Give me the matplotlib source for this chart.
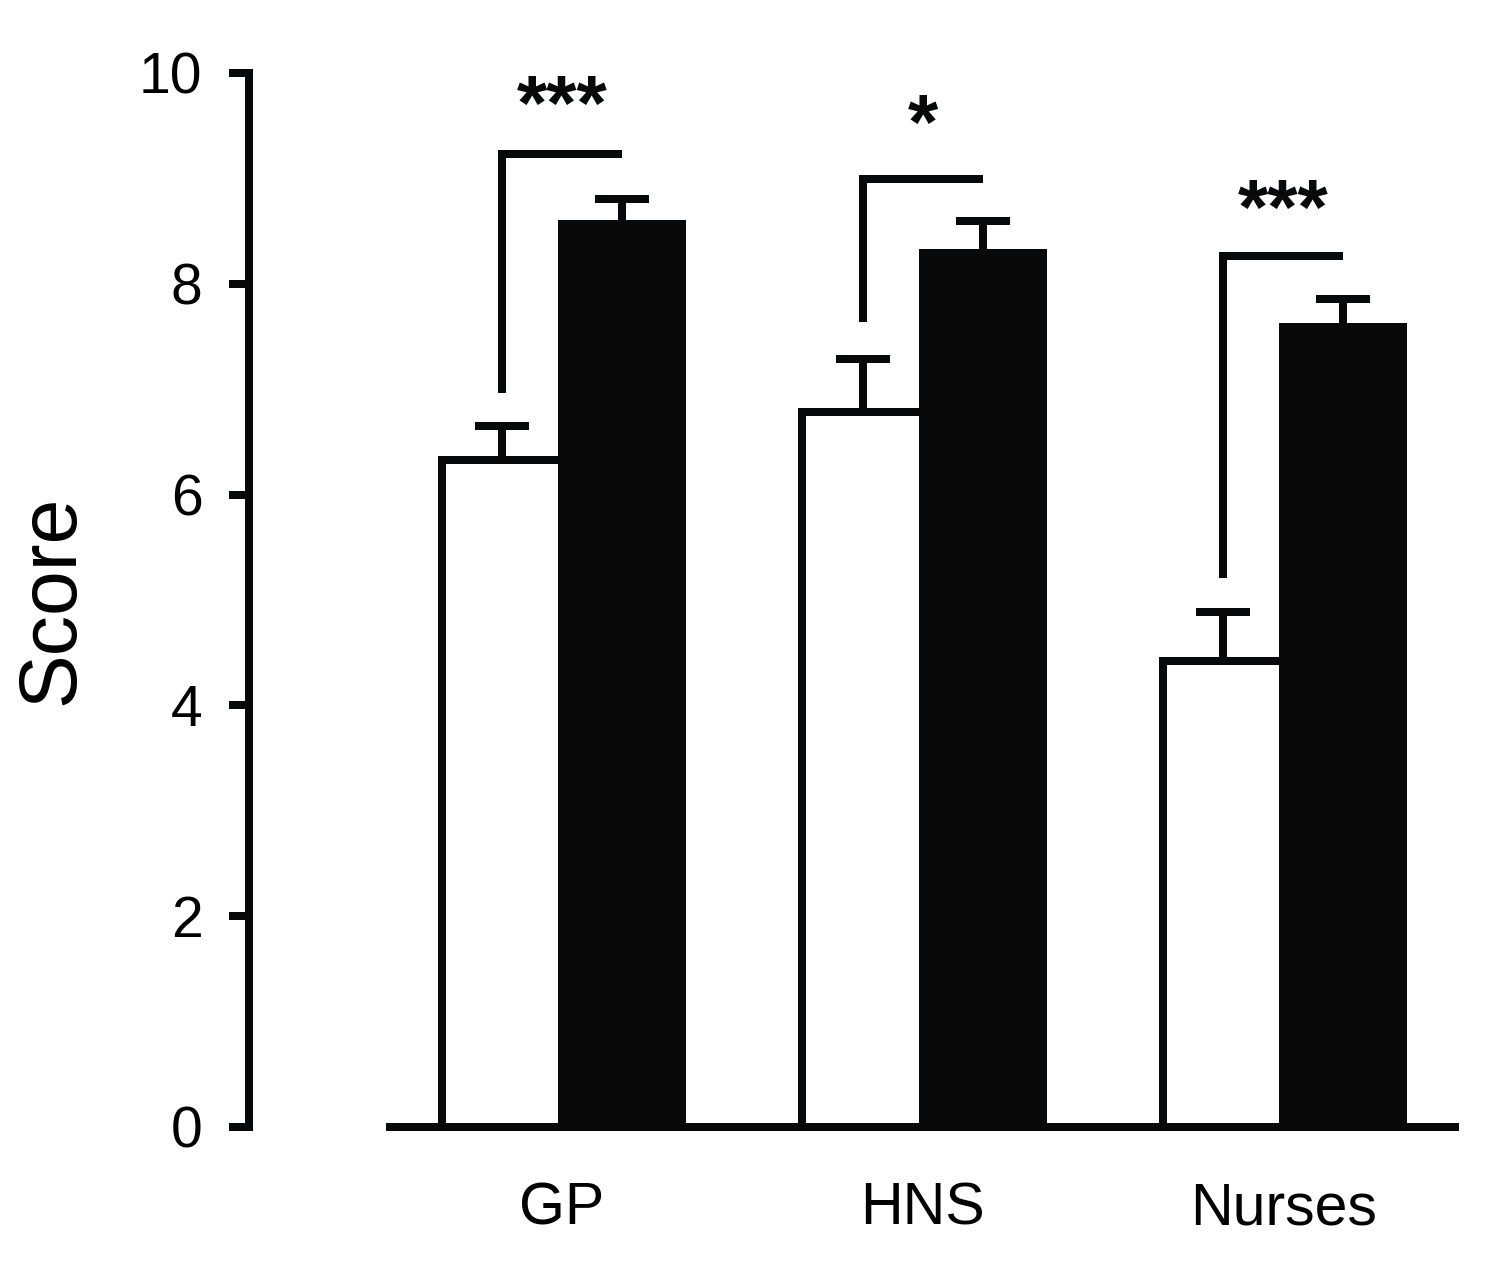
import matplotlib
matplotlib.use('Agg')
import matplotlib.pyplot as plt
import numpy as np

plt.rcParams['font.family'] = ['Liberation Sans', 'DejaVu Sans']

# data
groups = ['GP', 'HNS', 'Nurses']
white_vals = [6.33, 6.78, 4.42]
white_err = [0.32, 0.51, 0.47]
black_vals = [8.57, 8.29, 7.59]
black_err = [0.23, 0.31, 0.27]

# significance brackets: bottom of left leg, top level, label
bracket_low = [6.96, 7.64, 5.21]
bracket_high = [9.23, 8.99, 8.26]
sig_labels = ['***', '*', '***']
star_base = [9.46, 9.28, 8.47]

ink = '#08090b'
lw = 5.76  # ~8 px at 100 dpi

fig = plt.figure(figsize=(15, 12.79), dpi=100)
ax = fig.add_axes([249 / 1500, (1279 - 1127) / 1279, (1480 - 249) / 1500, (1127 - 73) / 1279])

x = np.arange(len(groups))
w = 0.333
off = w / 2

ax.bar(x - off, white_vals, width=w, color='white', edgecolor=ink, linewidth=lw, zorder=2)
ax.bar(x + off, black_vals, width=w, color=ink, edgecolor=ink, linewidth=lw, zorder=3)

ax.errorbar(x - off, white_vals, yerr=[np.zeros(3), white_err], fmt='none', ecolor=ink,
            elinewidth=lw, capsize=19.5, capthick=lw, zorder=1, clip_on=False)
ax.errorbar(x + off, black_vals, yerr=[np.zeros(3), black_err], fmt='none', ecolor=ink,
            elinewidth=lw, capsize=19.5, capthick=lw, zorder=1, clip_on=False)

for i in range(len(groups)):
    xl = x[i] - off
    xr = x[i] + off
    ax.plot([xl, xl, xr], [bracket_low[i], bracket_high[i], bracket_high[i]], color=ink,
            linewidth=lw, solid_capstyle='butt', solid_joinstyle='miter', clip_on=False)
    ax.text(x[i], star_base[i], sig_labels[i], ha='center', va='baseline', fontsize=56,
            fontweight='bold', color=ink)

ax.set_xlim(-0.868, 2.546)
ax.set_ylim(0, 10)
ax.set_yticks([0, 2, 4, 6, 8, 10])
ax.set_xticks(x)
ax.set_xticklabels(groups)

for s in ['top', 'right']:
    ax.spines[s].set_visible(False)
ax.spines['left'].set_linewidth(lw)
ax.spines['left'].set_bounds(0, 10)
ax.spines['bottom'].set_linewidth(lw)
ax.spines['bottom'].set_bounds(-0.477, 2.477)
ax.spines['left'].set_color(ink)
ax.spines['bottom'].set_color(ink)

ax.tick_params(axis='y', length=14.4, width=lw, pad=19, labelsize=41, color=ink)
ax.tick_params(axis='x', length=0, pad=39, labelsize=42.5)

fig.text(52 / 1500, (1279 - 600) / 1279, 'Score', rotation=90, ha='center', va='center', fontsize=58)

fig.savefig('out.png', dpi=100)
